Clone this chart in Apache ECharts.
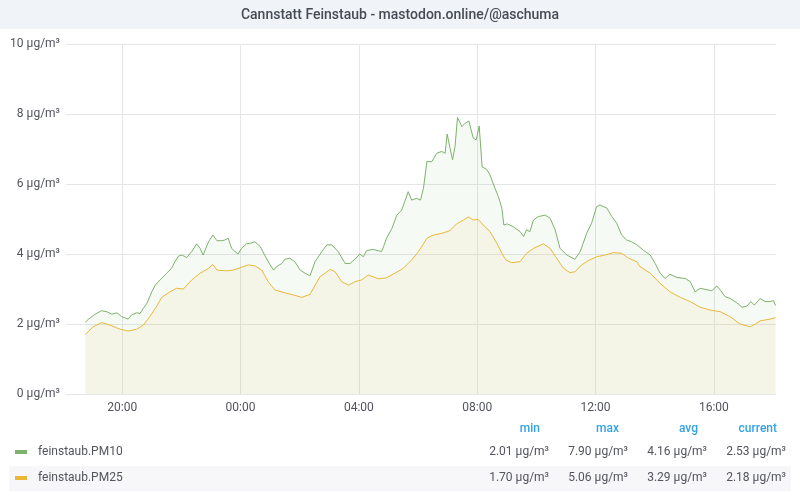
<!DOCTYPE html>
<html>
<head>
<meta charset="utf-8">
<script src="https://cdn.jsdelivr.net/npm/echarts@6/dist/echarts.min.js"></script>
<style>
html,body{margin:0;padding:0;background:#fff;}
#chart{width:800px;height:500px;}
</style>
</head>
<body>
<div id="chart"></div>
<script>
const titleText = "Cannstatt Feinstaub - mastodon.online/@aschuma";
const unit = " µg/m³";
const yTicks = [0, 2, 4, 6, 8, 10];
const xTickLabels = ["20:00", "00:00", "04:00", "08:00", "12:00", "16:00"];
const rangeStart = "18:06";
const rangeEnd = "18:06";

const pm10Times = ["18:45","18:47","18:51","19:05","19:18","19:29","19:39","19:49","19:59","20:12","20:19","20:29","20:36","20:43","20:50","21:00","21:07","21:17","21:30","21:40","21:47","21:54","22:01","22:11","22:21","22:31","22:38","22:44","22:55","23:04","23:12","23:22","23:28","23:35","23:42","23:49","23:55","00:02","00:12","00:23","00:29","00:40","00:50","01:00","01:07","01:13","01:24","01:30","01:40","01:50","02:01","02:11","02:21","02:31","02:45","02:55","03:05","03:18","03:32","03:42","03:52","04:02","04:09","04:16","04:29","04:46","04:50","04:56","05:07","05:17","05:27","05:34","05:40","05:47","05:57","06:05","06:11","06:18","06:28","06:38","06:48","06:55","06:59","07:05","07:10","07:15","07:20","07:29","07:35","07:43","07:52","07:58","08:04","08:10","08:19","08:26","08:36","08:43","08:50","08:54","09:01","09:13","09:27","09:34","09:40","09:47","09:54","10:04","10:18","10:28","10:38","10:48","11:02","11:18","11:29","11:42","11:52","12:02","12:09","12:23","12:33","12:43","12:53","13:03","13:13","13:24","13:37","13:51","14:01","14:11","14:21","14:31","14:45","15:02","15:12","15:22","15:32","15:42","15:56","16:06","16:13","16:23","16:33","16:46","16:57","17:07","17:15","17:22","17:34","17:44","17:54","18:01","18:05"];
const pm10Values = [2.05,2.01,2.13,2.28,2.38,2.35,2.28,2.32,2.21,2.14,2.26,2.32,2.30,2.45,2.59,2.92,3.11,3.26,3.45,3.59,3.78,3.94,3.97,3.90,4.07,4.29,4.16,3.97,4.35,4.54,4.38,4.38,4.40,4.45,4.16,4.07,4.00,4.16,4.29,4.32,4.35,4.21,3.94,3.69,3.54,3.64,3.73,3.85,3.88,3.78,3.54,3.45,3.38,3.78,4.07,4.26,4.26,4.07,3.73,3.73,3.85,4.00,3.92,4.10,4.13,4.07,4.21,4.45,4.73,5.11,5.26,5.54,5.78,5.54,5.59,5.54,5.88,6.64,6.64,6.88,6.93,6.88,7.43,7.02,6.69,7.07,7.90,7.64,7.73,7.80,7.31,7.26,7.66,6.49,6.42,6.26,5.88,5.64,5.31,4.83,4.86,4.78,4.64,4.50,4.69,4.64,4.97,5.07,5.11,5.02,4.69,4.16,3.97,3.85,4.07,4.59,4.88,5.35,5.40,5.31,5.07,4.88,4.54,4.40,4.35,4.26,4.11,3.97,3.73,3.45,3.30,3.42,3.33,3.30,3.21,2.92,3.02,2.99,2.95,3.09,2.97,2.78,2.73,2.61,2.48,2.51,2.64,2.54,2.73,2.64,2.64,2.67,2.53];

const pm25Times = ["18:45","19:01","19:18","19:35","19:56","20:12","20:29","20:43","20:56","21:10","21:20","21:37","21:50","22:04","22:21","22:38","22:55","23:04","23:12","23:32","23:45","00:02","00:16","00:29","00:43","00:56","01:10","01:30","01:47","02:04","02:21","02:41","03:02","03:12","03:25","03:39","03:52","04:06","04:19","04:40","04:56","05:13","05:30","05:47","06:01","06:18","06:31","06:48","07:05","07:18","07:32","07:42","07:52","08:02","08:12","08:26","08:40","08:50","08:58","09:10","09:27","09:40","09:54","10:14","10:28","10:41","10:55","11:08","11:18","11:32","11:45","12:02","12:19","12:36","12:53","13:07","13:24","13:30","13:51","14:11","14:31","14:52","15:12","15:32","15:52","16:13","16:33","16:53","17:14","17:24","17:34","17:54","18:05"];
const pm25Values = [1.70,1.92,2.04,1.97,1.85,1.80,1.85,1.97,2.21,2.51,2.76,2.92,3.02,3.00,3.26,3.45,3.59,3.70,3.54,3.52,3.54,3.62,3.69,3.66,3.54,3.21,2.97,2.89,2.83,2.76,2.85,3.35,3.56,3.49,3.21,3.11,3.21,3.26,3.40,3.29,3.32,3.45,3.59,3.83,4.07,4.45,4.54,4.59,4.67,4.86,4.97,5.06,4.97,4.99,4.83,4.64,4.30,4.02,3.83,3.75,3.78,4.02,4.16,4.29,4.16,3.88,3.59,3.47,3.49,3.69,3.81,3.92,3.97,4.04,4.02,3.88,3.78,3.64,3.45,3.16,2.92,2.76,2.64,2.48,2.40,2.35,2.21,2.00,1.92,2.00,2.09,2.14,2.18];

const seriesNames = ["feinstaub.PM10", "feinstaub.PM25"];
const seriesColors = ["#7eb26d", "#eab839"];
const statHeaders = ["min", "max", "avg", "current"];
const pm10Stats = ["2.01", "7.90", "4.16", "2.53"];
const pm25Stats = ["1.70", "5.06", "3.29", "2.18"];

function toMin(s) { const p = s.split(":"); return (+p[0]) * 60 + (+p[1]); }
function toSeq(times) {
  let day = 0, prev = -1;
  return times.map(t => { let m = toMin(t); if (m < prev) day++; prev = m; return m + day * 1440; });
}
const startMin = toMin(rangeStart);
const endMin = toMin(rangeEnd) + 1440;
const tickVals = xTickLabels.map(l => { let m = toMin(l); if (m < startMin) m += 1440; return m; });

const pm10X = toSeq(pm10Times);
const pm25X = toSeq(pm25Times);
const pm10Data = pm10X.map((x, i) => [x, pm10Values[i]]);
const pm25Data = pm25X.map((x, i) => [x, pm25Values[i]]);

function fmtTime(v) {
  const m = ((Math.round(v) % 1440) + 1440) % 1440;
  const h = Math.floor(m / 60), mm = m % 60;
  return String(h).padStart(2, "0") + ":" + String(mm).padStart(2, "0");
}

const FONT = "Roboto";
const TXT = "#52545c";
const BLUE = "#33a2e5";

const statRight = [549, 628, 707, 786];
const headRight = [540, 619, 698, 777];
const graphics = [
  { type: "rect", shape: { x: 0, y: 0, width: 800, height: 29 }, style: { fill: "#f0f3f8" }, silent: true },
  { type: "text", x: 400, y: 15, style: { text: titleText, fill: "#464c54", font: "500 14px " + FONT, align: "center", verticalAlign: "middle" } },
  { type: "rect", shape: { x: 9, y: 466, width: 782, height: 25 }, style: { fill: "#f7f7f9" }, silent: true }
];
statHeaders.forEach((h, i) => graphics.push({ type: "text", x: headRight[i], y: 429, style: { text: h, fill: BLUE, font: "500 12px " + FONT, align: "right", verticalAlign: "middle" } }));
[pm10Stats, pm25Stats].forEach((stats, r) => {
  const y = 452 + r * 26;
  graphics.push({ type: "rect", shape: { x: 15, y: y - 2, width: 12, height: 4 }, style: { fill: seriesColors[r] } });
  graphics.push({ type: "text", x: 38, y: y, style: { text: seriesNames[r], fill: TXT, font: "12px " + FONT, align: "left", verticalAlign: "middle" } });
  stats.forEach((s, i) => graphics.push({ type: "text", x: statRight[i], y: y, style: { text: s + unit, fill: TXT, font: "12px " + FONT, align: "right", verticalAlign: "middle" } }));
});

const chart = echarts.init(document.getElementById("chart"), null, { renderer: "canvas" });
chart.setOption({
  animation: false,
  backgroundColor: "#ffffff",
  textStyle: { fontFamily: FONT },
  grid: { left: 66, right: 24, top: 44, bottom: 106, containLabel: false },
  xAxis: {
    type: "value",
    min: startMin,
    max: endMin,
    axisLine: { show: false },
    axisTick: { show: false, customValues: tickVals },
    axisLabel: { customValues: tickVals, formatter: v => fmtTime(v), color: TXT, fontSize: 12, margin: 8, fontFamily: FONT },
    splitLine: { show: true, lineStyle: { color: "#e6e6e6", width: 1 } }
  },
  yAxis: {
    type: "value",
    min: 0,
    max: 10,
    interval: 2,
    axisLine: { show: false },
    axisTick: { show: false },
    axisLabel: { formatter: v => v + unit, color: TXT, fontSize: 12, margin: 6, fontFamily: FONT },
    splitLine: { show: true, lineStyle: { color: "#e6e6e6", width: 1 } }
  },
  series: [
    { name: seriesNames[0], type: "line", data: pm10Data, showSymbol: false, symbol: "none",
      lineStyle: { color: seriesColors[0], width: 1 }, itemStyle: { color: seriesColors[0] },
      areaStyle: { color: "rgba(126,178,109,0.1)", origin: "start" } },
    { name: seriesNames[1], type: "line", data: pm25Data, showSymbol: false, symbol: "none",
      lineStyle: { color: seriesColors[1], width: 1 }, itemStyle: { color: seriesColors[1] },
      areaStyle: { color: "rgba(234,184,57,0.1)", origin: "start" } }
  ],
  graphic: graphics
});
</script>
</body>
</html>
